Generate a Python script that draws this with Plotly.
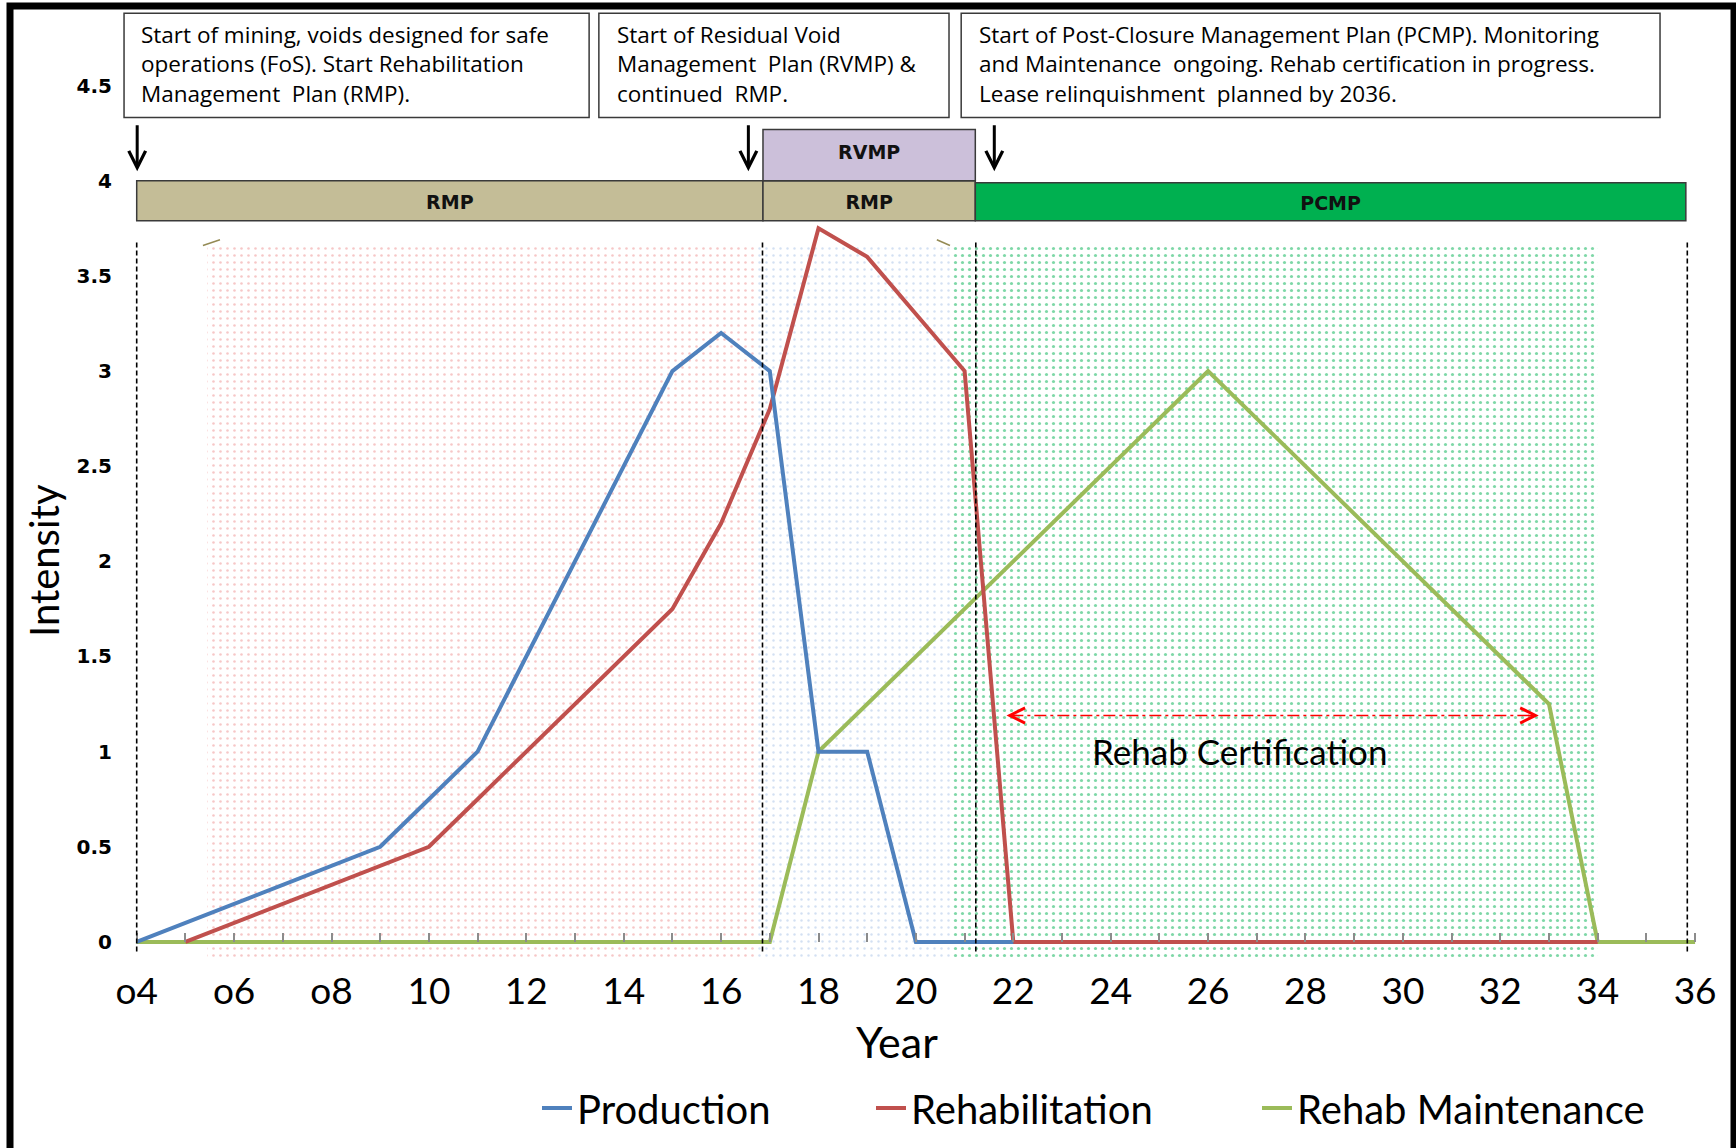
import plotly.graph_objects as go

# ---------------- data ----------------
PROD_YEARS = [4, 5, 6, 7, 8, 9, 10, 11, 12, 13, 14, 15, 16, 17, 18, 19, 20, 21, 22]
PRODUCTION = [0, 0.1, 0.2, 0.3, 0.4, 0.5, 0.75, 1.0, 1.5, 2.0, 2.5, 3.0, 3.2, 3.0, 1.0, 1.0, 0, 0, 0]

REHAB_YEARS = [5, 6, 7, 8, 9, 10, 11, 12, 13, 14, 15, 16, 17, 18, 19, 20, 21, 22,
               23, 24, 25, 26, 27, 28, 29, 30, 31, 32, 33, 34]
REHABILITATION = [0, 0.1, 0.2, 0.3, 0.4, 0.5, 0.75, 1.0, 1.25, 1.5, 1.75, 2.2, 2.8, 3.75, 3.6, 3.3, 3.0, 0,
                  0, 0, 0, 0, 0, 0, 0, 0, 0, 0, 0, 0]

MAINT_YEARS = list(range(4, 37))
REHAB_MAINTENANCE = [0, 0, 0, 0, 0, 0, 0, 0, 0, 0, 0, 0, 0, 0,
                     1.0, 1.25, 1.5, 1.75, 2.0, 2.25, 2.5, 2.75, 3.0,
                     2.75, 2.5, 2.25, 2.0, 1.75, 1.5, 1.25, 0, 0, 0]

TICK_YEARS = [4, 6, 8, 10, 12, 14, 16, 18, 20, 22, 24, 26, 28, 30, 32, 34, 36]
TICK_LABELS = ["o4", "o6", "o8", "10", "12", "14", "16", "18", "20", "22", "24", "26",
               "28", "30", "32", "34", "36"]
MINOR_YEARS = [5, 7, 9, 11, 13, 15, 17, 19, 21, 23, 25, 27, 29, 31, 33, 35]
Y_TICKS = [0, 0.5, 1, 1.5, 2, 2.5, 3, 3.5, 4, 4.5]
Y_LABELS = ["0", "0.5", "1", "1.5", "2", "2.5", "3", "3.5", "4", "4.5"]

# phase background regions (start, end) in years
REGION_NAMES = ["mining", "rvmp", "pcmp"]
REGION_START = [5.45, 16.75, 20.76]
REGION_END = [16.75, 20.76, 34.0]
REGION_LOW, REGION_HIGH = -0.1, 3.66

# management plan bars
BAR_LABELS = ["RMP", "RMP", "RVMP", "PCMP"]
BAR_START = [4.0, 16.86, 16.86, 21.22]
BAR_END = [16.86, 21.22, 21.22, 35.81]
BAR_LOW = [3.79, 3.79, 4.0, 3.79]
BAR_HIGH = [4.0, 4.0, 4.27, 3.99]

DIVIDERS = [4.0, 16.85, 21.23, 35.84]
ARROW_YEARS = [4.01, 16.56, 21.61]

NOTES = [
    "Start of mining, voids designed for safe<br>operations (FoS). Start Rehabilitation<br>Management  Plan (RMP).",
    "Start of Residual Void<br>Management  Plan (RVMP) &amp;<br>continued  RMP.",
    "Start of Post-Closure Management Plan (PCMP). Monitoring<br>and Maintenance  ongoing. Rehab certification in progress.<br>Lease relinquishment  planned by 2036.",
]
NOTE_BOX_LEFT = [3.74, 13.49, 20.93]
NOTE_BOX_RIGHT = [13.29, 20.68, 35.28]
NOTE_TEXT_LEFT = [4.07, 13.85, 21.28]
NOTE_BOX_LOW, NOTE_BOX_HIGH, NOTE_TEXT_MID = 4.332, 4.881, 4.612

CERT_START, CERT_END, CERT_LEVEL = 21.86, 32.79, 1.19

# ---------------- styling ----------------
W, H = 1736, 1148
FONT = "Lato, Carlito, 'Open Sans', sans-serif"
NOTE_FONT = "'Open Sans', Lato, sans-serif"
BOLD_FONT = "'DejaVu Sans', Verdana, sans-serif"
BLUE, RED, GREEN = "#4F81BD", "#C0504D", "#9BBB59"
X_RANGE = [1.193, 36.84]
Y_RANGE = [-0.3, 4.95]
B = 149
PLOT_H = H - B

fig = go.Figure()

region_colors = ["#EE9090", "#A8C2E6", "#00B050"]
region_solidity = [0.11, 0.1, 0.16]
for s, e, c, so in zip(REGION_START, REGION_END, region_colors, region_solidity):
    fig.add_trace(go.Scatter(
        x=[s, e, e, s, s], y=[REGION_LOW, REGION_LOW, REGION_HIGH, REGION_HIGH, REGION_LOW],
        mode="lines", line=dict(width=0), fill="toself", fillcolor="rgba(255,255,255,0)",
        fillpattern=dict(shape=".", fgcolor=c, bgcolor="rgba(255,255,255,0)", size=7, solidity=so),
        showlegend=False, hoverinfo="skip"))

fig.add_trace(go.Scatter(x=MAINT_YEARS, y=REHAB_MAINTENANCE, mode="lines", name="Rehab Maintenance",
                         line=dict(color=GREEN, width=4), legend="legend3"))
fig.add_trace(go.Scatter(x=REHAB_YEARS, y=REHABILITATION, mode="lines", name="Rehabilitation",
                         line=dict(color=RED, width=4), legend="legend2"))
fig.add_trace(go.Scatter(x=PROD_YEARS, y=PRODUCTION, mode="lines", name="Production",
                         line=dict(color=BLUE, width=4), legend="legend"))

shapes = []
# outer frame
shapes.append(dict(type="rect", xref="paper", yref="paper", x0=10 / W, x1=1734 / W,
                   y0=-0.4, y1=1 - 6 / PLOT_H, line=dict(color="black", width=7),
                   fillcolor="rgba(0,0,0,0)", layer="above"))
for xd in DIVIDERS:
    shapes.append(dict(type="line", xref="x", yref="y", x0=xd, x1=xd, y0=-0.05, y1=3.68,
                       line=dict(color="black", width=1.6, dash="5px,3px")))
bar_fills = ["#C4BD97", "#C4BD97", "#CCC0DA", "#00B050"]
for lab, s, e, lo, hi, fc in zip(BAR_LABELS, BAR_START, BAR_END, BAR_LOW, BAR_HIGH, bar_fills):
    lbl = dict(text=lab, font=dict(family=BOLD_FONT, size=19, color="#111111", weight="bold"))
    if lab == "RVMP":
        lbl.update(textposition="top center", padding=11)
    shapes.append(dict(type="rect", xref="x", yref="y", x0=s, x1=e, y0=lo, y1=hi,
                       fillcolor=fc, line=dict(color="#3a3a3a", width=1.5), label=lbl))
# note boxes
for bl, br in zip(NOTE_BOX_LEFT, NOTE_BOX_RIGHT):
    shapes.append(dict(type="rect", xref="x", yref="y", x0=bl, x1=br, y0=NOTE_BOX_LOW, y1=NOTE_BOX_HIGH,
                       fillcolor="white", line=dict(color="#3a3a3a", width=1.5)))
# small tan marks
shapes.append(dict(type="line", xref="x", yref="y", x0=5.36, x1=5.71, y0=3.66, y1=3.69,
                   line=dict(color="#948A54", width=1.5)))
shapes.append(dict(type="line", xref="x", yref="y", x0=20.43, x1=20.70, y0=3.69, y1=3.66,
                   line=dict(color="#948A54", width=1.5)))
# rehab certification dashed line
shapes.append(dict(type="line", xref="x", yref="y", x0=CERT_START + 0.1, x1=CERT_END - 0.1,
                   y0=CERT_LEVEL, y1=CERT_LEVEL,
                   line=dict(color="#FF0000", width=1.5, dash="12px,4px,3px,4px")))

annotations = []
for txt, tl in zip(NOTES, NOTE_TEXT_LEFT):
    annotations.append(dict(text=txt, xref="x", yref="y", x=tl, y=NOTE_TEXT_MID, xanchor="left",
                            yanchor="middle", showarrow=False, align="left", borderpad=0,
                            font=dict(family=NOTE_FONT, size=22.5, color="black")))
for ax in ARROW_YEARS:
    annotations.append(dict(text="", xref="x", yref="y", axref="x", ayref="y", x=ax, y=4.05, ax=ax, ay=4.30,
                            showarrow=True, arrowhead=5, arrowwidth=3, arrowsize=1.1, arrowcolor="black"))
annotations.append(dict(text="", xref="x", yref="y", axref="x", ayref="y", x=CERT_START, y=CERT_LEVEL,
                        ax=CERT_START + 0.25, ay=CERT_LEVEL, showarrow=True, arrowhead=5,
                        arrowwidth=1.5, arrowsize=2, arrowcolor="#FF0000"))
annotations.append(dict(text="", xref="x", yref="y", axref="x", ayref="y", x=CERT_END, y=CERT_LEVEL,
                        ax=CERT_END - 0.25, ay=CERT_LEVEL, showarrow=True, arrowhead=5,
                        arrowwidth=1.5, arrowsize=2, arrowcolor="#FF0000"))
annotations.append(dict(text="Rehab Certification", xref="x", yref="y", x=26.65, y=1.005, showarrow=False,
                        font=dict(family=FONT, size=35, color="black")))
# axis titles (placed to match the reference's offsets)
annotations.append(dict(text="Year", xref="x", yref="paper", x=19.61, y=(PLOT_H - 1041) / PLOT_H,
                        showarrow=False, yanchor="middle",
                        font=dict(family=FONT, size=43, color="black")))
annotations.append(dict(text="Intensity", xref="paper", yref="paper", x=44 / W, y=(PLOT_H - 561) / PLOT_H,
                        showarrow=False, textangle=-90, xanchor="center", yanchor="middle",
                        font=dict(family=FONT, size=40, color="black")))

legend_common = dict(orientation="h", yanchor="middle", xanchor="left", y=-0.109,
                     bgcolor="rgba(0,0,0,0)", font=dict(family=FONT, size=40, color="black"))

fig.update_layout(
    width=W, height=H, margin=dict(l=0, r=0, t=0, b=B),
    plot_bgcolor="white", paper_bgcolor="white",
    font=dict(family=FONT, color="black"),
    shapes=shapes, annotations=annotations,
    legend=dict(x=(579 - 42) / W, **legend_common),
    legend2=dict(x=(913 - 42) / W, **legend_common),
    legend3=dict(x=(1299 - 42) / W, **legend_common),
    xaxis=dict(range=X_RANGE, anchor="free", position=0.3 / 5.25, tickmode="array",
               tickvals=TICK_YEARS, ticktext=TICK_LABELS, ticks="inside", ticklen=9, tickwidth=1.5,
               tickcolor="#8c8c8c", showline=False, showgrid=False, zeroline=False,
               tickfont=dict(family=FONT, size=37, color="black"), ticklabelstandoff=24,
               minor=dict(tickmode="array", tickvals=MINOR_YEARS, ticks="inside", ticklen=9,
                          tickwidth=1.5, tickcolor="#8c8c8c", showgrid=False)),
    yaxis=dict(range=Y_RANGE, anchor="free", position=112 / W, tickmode="array",
               tickvals=Y_TICKS, ticktext=Y_LABELS, ticks="", showline=False, showgrid=False,
               zeroline=False, tickfont=dict(family=BOLD_FONT, size=20, color="black", weight="bold")),
)

fig.write_html("out.html", config={"displayModeBar": False},
               post_script="document.body.style.margin='0';")
